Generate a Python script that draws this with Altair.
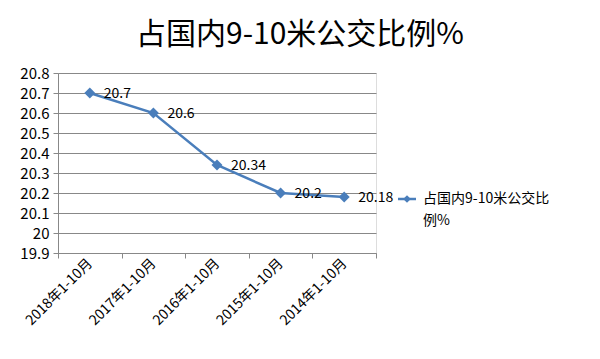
import altair as alt
import pandas as pd

categories = ["2018年1-10月", "2017年1-10月", "2016年1-10月", "2015年1-10月", "2014年1-10月"]
values = [20.7, 20.6, 20.34, 20.2, 20.18]
labels = ["20.7", "20.6", "20.34", "20.2", "20.18"]
series_name = "占国内9-10米公交比例%"
legend_lines = ["占国内9-10米公交比", "例%"]
y_ticks = [19.9, 20.0, 20.1, 20.2, 20.3, 20.4, 20.5, 20.6, 20.7, 20.8]

df = pd.DataFrame({"cat": categories, "val": values, "lab": labels})
leg = pd.DataFrame({"series": [series_name]})

FONT = "Noto Sans CJK SC"
BLUE = "#4a7ebb"

x = alt.X("cat:N", sort=categories, title=None,
          scale=alt.Scale(paddingInner=0, paddingOuter=0),
          axis=alt.Axis(labelAngle=-45, labelAlign="right", labelBaseline="middle",
                        labelFontSize=14, labelColor="#000000", labelFont=FONT,
                        tickBand="extent", ticks=True, tickSize=5, tickColor="#888888",
                        domainColor="#888888", labelPadding=3, grid=False))
y = alt.Y("val:Q", title=None,
          scale=alt.Scale(domain=[19.9, 20.8], nice=False, zero=False),
          axis=alt.Axis(values=y_ticks, labelFontSize=15, labelColor="#000000", labelFont=FONT,
                        tickSize=5, tickColor="#888888", domainColor="#888888",
                        gridColor="#888888", gridWidth=1, labelPadding=4,
                        labelExpr="datum.value == 20 ? '20' : format(datum.value, '.1f')"))

base = alt.Chart(df).encode(x=x, y=y)
line = base.mark_line(strokeWidth=2.5, color=BLUE)
pts = base.mark_point(shape="diamond", filled=True, size=120, opacity=1, color=BLUE)
txt = base.mark_text(align="left", dx=14, dy=1, fontSize=14, font=FONT, color="#000000").encode(text="lab:N")

# legend drawn as a small key
leg_base = alt.Chart(leg)
leg_line = leg_base.mark_rule(color=BLUE, strokeWidth=2.5).encode(
    x=alt.value(340), x2=alt.value(358), y=alt.value(126))
leg_pt = leg_base.mark_point(shape="diamond", filled=True, size=60, opacity=1, color=BLUE).encode(
    x=alt.value(349), y=alt.value(126))
leg_txt = leg_base.mark_text(align="left", baseline="middle", fontSize=14, font=FONT,
                             color="#000000", lineHeight=22).encode(
    x=alt.value(365), y=alt.value(126), text=alt.value(legend_lines))

chart = alt.layer(line, pts, txt, leg_line, leg_pt, leg_txt).properties(
    width=318, height=180,
    autosize=alt.AutoSizeParams(type="none"),
    padding={"left": 50, "top": 65, "right": 216, "bottom": 98},
    title=alt.TitleParams(series_name, fontSize=30, font=FONT, fontWeight="normal",
                          color="#000000", anchor="middle", dx=83, offset=16),
).configure_view(stroke=None).configure(background="white")

chart.save("out.html", embed_options={"renderer": "svg", "actions": False})
